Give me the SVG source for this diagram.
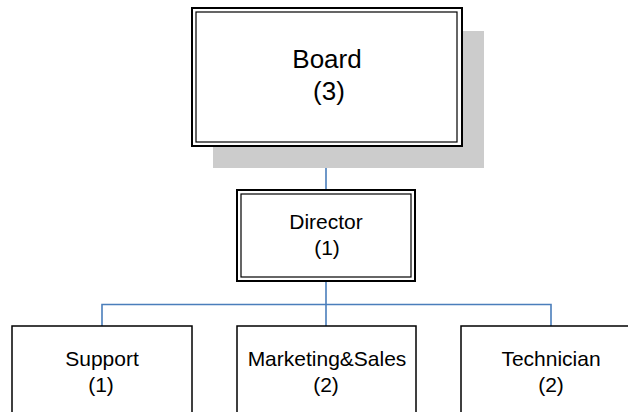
<svg xmlns="http://www.w3.org/2000/svg" width="628" height="412" viewBox="0 0 628 412">
<style>
  text { font-family: "Liberation Sans", Arial, sans-serif; fill: #000; text-anchor: middle; }
  .big { font-size: 26px; }
  .med { font-size: 21px; }
  .outer { fill: #fff; stroke: #000; stroke-width: 2; }
  .inner { fill: none; stroke: #000; stroke-width: 1.2; }
  .box { fill: #fff; stroke: #000; stroke-width: 1.5; }
  .conn { fill: none; stroke: #4a7ebb; stroke-width: 1.6; }
</style>
<rect width="628" height="412" fill="#fff"/>
<g id="connectors">
  <line class="conn" x1="326" y1="146" x2="326" y2="190"/>
  <polyline class="conn" points="326,281 326,304.5"/>
  <polyline class="conn" points="102,326 102,304.5 551,304.5 551,326"/>
  <line class="conn" x1="326" y1="304.5" x2="326" y2="326"/>
</g>
<g id="board">
  <rect x="213" y="31" width="271" height="137" fill="#cccccc"/>
  <rect class="outer" x="192" y="8" width="270" height="138"/>
  <rect class="inner" x="196" y="12" width="261" height="130"/>
  <text class="big" x="327" y="68">Board</text>
  <text class="big" x="329" y="100">(3)</text>
</g>
<g id="director">
  <rect class="outer" x="237" y="190" width="178" height="91"/>
  <rect class="inner" x="241" y="194" width="170" height="83"/>
  <text class="med" x="326" y="229">Director</text>
  <text class="med" x="327" y="255">(1)</text>
</g>
<g id="support">
  <rect class="box" x="12" y="326" width="180" height="100"/>
  <text class="med" x="102" y="366">Support</text>
  <text class="med" x="101" y="392">(1)</text>
</g>
<g id="marketing">
  <rect class="box" x="237" y="326" width="179" height="100"/>
  <text class="med" x="327" y="366">Marketing&amp;Sales</text>
  <text class="med" x="326" y="392">(2)</text>
</g>
<g id="technician">
  <rect class="box" x="461" y="326" width="180" height="100"/>
  <text class="med" x="551" y="366">Technician</text>
  <text class="med" x="551" y="392">(2)</text>
</g>
</svg>
